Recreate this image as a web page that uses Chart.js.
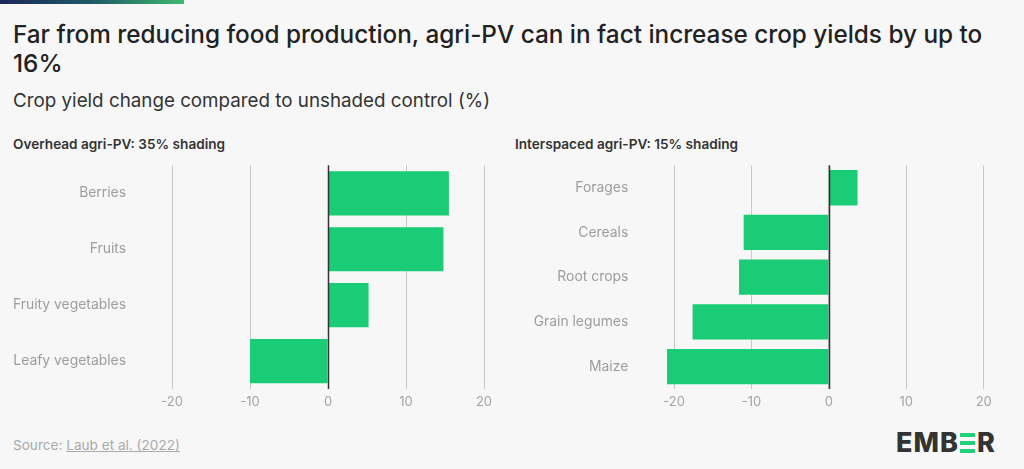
<!DOCTYPE html>
<html><head><meta charset="utf-8">
<script src="https://cdn.jsdelivr.net/npm/chart.js@4.4.0/dist/chart.umd.min.js"></script>
<style>
html,body{margin:0;padding:0;background:#f7f7f7;}
body{width:1024px;height:469px;position:relative;overflow:hidden;font-family:Inter,"Noto Sans",sans-serif;}
#bar{position:absolute;left:0;top:0;width:184px;height:4px;background:linear-gradient(90deg,#1d2659,#1f5a66 50%,#3dbb6e);}
#title{position:absolute;left:13px;top:20px;font-size:24.3px;line-height:29px;color:#222;font-weight:500;white-space:nowrap;}
#sub{position:absolute;left:13px;top:89px;font-size:18.8px;color:#333;white-space:nowrap;}
.head{position:absolute;top:136px;font-size:13.6px;font-weight:600;color:#333;white-space:nowrap;}
.cv{position:absolute;top:150px;width:500px;height:260px;}
.cv canvas{display:block;}
#src{position:absolute;left:13px;top:437px;font-size:13.6px;color:#aaa;}
#src span{text-decoration:underline;}
#logo{position:absolute;left:896px;top:426px;font-size:27px;font-weight:800;color:#333;letter-spacing:1px;display:flex;align-items:center;}
#logo .e{display:inline-flex;flex-direction:column;justify-content:space-between;width:15px;height:20px;margin:0 2px 0 1px;}
#logo .e i{display:block;height:4px;background:#22d17a;}
</style></head>
<body>
<div id="bar"></div>
<div id="title">Far from reducing food production, agri-PV can in fact increase crop yields by up to<br>16%</div>
<div id="sub">Crop yield change compared to unshaded control (%)</div>
<div class="head" style="left:13px">Overhead agri-PV: 35% shading</div>
<div class="head" style="left:515px">Interspaced agri-PV: 15% shading</div>
<div class="cv" style="left:0"><canvas id="c1"></canvas></div>
<div class="cv" style="left:512px"><canvas id="c2"></canvas></div>
<div id="src">Source: <span>Laub et al. (2022)</span></div>
<div id="logo">EMB<span class="e"><i></i><i></i><i></i></span>R</div>
<script>
const overheadCategories = ["Berries","Fruits","Fruity vegetables","Leafy vegetables"];
const overheadValues = [15.5, 14.8, 5.2, -10.0];
const interspacedCategories = ["Forages","Cereals","Root crops","Grain legumes","Maize"];
const interspacedValues = [3.7, -11.0, -11.6, -17.6, -20.9];
const xTicks = [-20, -10, 0, 10, 20];
const xMin = -25, xMax = 20;

const zeroLine = {
  id:'zeroLine',
  afterDatasetsDraw(chart){
    const xs = chart.scales.x, a = chart.chartArea, ctx = chart.ctx;
    const px = Math.round(xs.getPixelForValue(0)) + 0.5;
    ctx.save(); ctx.strokeStyle = '#333'; ctx.lineWidth = 1.5;
    ctx.beginPath(); ctx.moveTo(px, a.top); ctx.lineTo(px, a.bottom); ctx.stroke(); ctx.restore();
  }
};

function makeChart(id, cats, vals, yWidth, padRight){
  return new Chart(document.getElementById(id), {
    type:'bar',
    data:{labels:cats, datasets:[{data:vals, backgroundColor:'#19cc75', borderWidth:0, barPercentage:1, categoryPercentage:0.79}]},
    options:{
      indexAxis:'y', responsive:true, maintainAspectRatio:false, animation:false,
      layout:{autoPadding:false, padding:{top:9.7, right:padRight, left:0, bottom:0}},
      plugins:{legend:{display:false}, tooltip:{enabled:false}},
      scales:{
        x:{min:xMin, max:xMax,
           afterBuildTicks(s){ s.ticks = xTicks.map(v=>({value:v})); },
           afterFit(s){ s.height = 21; },
           border:{display:false},
           grid:{color:'#c9c9c9', lineWidth:1, drawTicks:false},
           ticks:{padding:5, color:'#a3a3a3', font:{family:'Inter', size:13}}},
        y:{afterFit(s){ s.width = yWidth; },
           border:{display:false},
           grid:{display:false, drawTicks:false},
           ticks:{padding:7, color:'#9d9d9d', font:{family:'Inter', size:13.9}}}
      }
    },
    plugins:[zeroLine]
  });
}
makeChart('c1', overheadCategories, overheadValues, 133, 16);
makeChart('c2', interspacedCategories, interspacedValues, 123.3, 28.3);
</script>
</body></html>
